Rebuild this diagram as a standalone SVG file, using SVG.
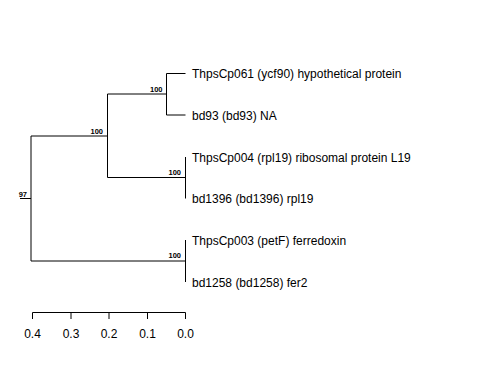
<svg xmlns="http://www.w3.org/2000/svg" width="480" height="384" viewBox="0 0 480 384">
<style>
.br{stroke:#000;stroke-width:1;fill:none}
.lf{font-family:"Liberation Sans",Arial,sans-serif;font-size:12px;fill:#000}
.bs{font-family:"Liberation Sans",Arial,sans-serif;font-size:7.5px;font-weight:bold;fill:#000;text-anchor:end}
.ax{font-family:"Liberation Sans",Arial,sans-serif;font-size:12px;fill:#000;text-anchor:middle}
</style>
<rect width="480" height="384" fill="#fff"/>
<g id="connectors">
<path class="br" d="M20,198.5H31M31,136V261M31,136H107.5M31,261H185.5"/>
<path class="br" d="M107.5,94V177.5M107.5,94H166.5M107.5,177.5H185.5"/>
<path class="br" d="M166.5,73.5V115M166.5,73.5H185.5M166.5,115H185.5"/>
<path class="br" d="M185.5,157V198.5"/>
<path class="br" d="M185.5,240V282"/>
</g>
<g id="node-root"><text class="bs" x="27" y="196.5">97</text></g>
<g id="node-c"><text class="bs" x="103" y="134">100</text></g>
<g id="node-a"><text class="bs" x="162.5" y="91.5">100</text></g>
<g id="node-b"><text class="bs" x="181" y="175">100</text></g>
<g id="node-d"><text class="bs" x="181" y="258">100</text></g>
<g id="leaf1"><text class="lf" x="192" y="78">ThpsCp061 (ycf90) hypothetical protein</text></g>
<g id="leaf2"><text class="lf" x="192" y="119.5">bd93 (bd93) NA</text></g>
<g id="leaf3"><text class="lf" x="192" y="161.5">ThpsCp004 (rpl19) ribosomal protein L19</text></g>
<g id="leaf4"><text class="lf" x="192" y="203">bd1396 (bd1396) rpl19</text></g>
<g id="leaf5"><text class="lf" x="192" y="244.5">ThpsCp003 (petF) ferredoxin</text></g>
<g id="leaf6"><text class="lf" x="192" y="286.5">bd1258 (bd1258) fer2</text></g>
<g id="axis">
<path class="br" d="M32.5,312.5H185.5M32.5,312.5V319M71,312.5V319M109,312.5V319M147.5,312.5V319M185.5,312.5V319"/>
<text class="ax" x="32.5" y="337.5">0.4</text>
<text class="ax" x="71" y="337.5">0.3</text>
<text class="ax" x="109" y="337.5">0.2</text>
<text class="ax" x="147.5" y="337.5">0.1</text>
<text class="ax" x="185.5" y="337.5">0.0</text>
</g>
</svg>
